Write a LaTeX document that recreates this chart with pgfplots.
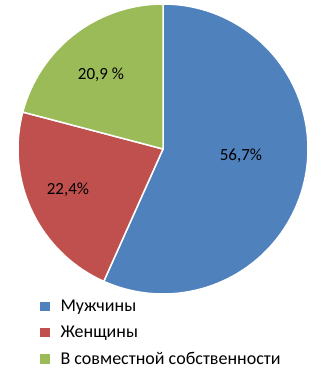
\documentclass[border=0pt]{standalone}
\usepackage{fontspec}
\setmainfont{Carlito}
\usepackage{pgfplots}
\pgfplotsset{compat=1.18}
\definecolor{cblue}{HTML}{4F81BD}
\definecolor{cred}{HTML}{C0504D}
\definecolor{cgreen}{HTML}{9BBB59}
\begin{document}
\begin{tikzpicture}
\begin{axis}[
  x=1bp, y=1bp, scale only axis,
  xmin=0, xmax=331, ymin=0, ymax=378, y dir=reverse,
  hide axis, clip=false,
  legend cell align=left,
  legend image code/.code={\fill[#1] (0bp,-5.5bp) rectangle (12bp,5.5bp); \path (21bp,0bp);},
  legend style={at={(axis cs:38,300)}, anchor=north west, draw=none, fill=none,
    font=\fontsize{18bp}{21bp}\selectfont, row sep=13bp,
    nodes={inner sep=0pt}, inner sep=0pt, outer sep=0pt},
]
\path (axis cs:0,0) rectangle (axis cs:331,378);
% values: 56.7, 22.4, 20.9 (percent), clockwise from 12 o'clock
\addplot[fill=cblue, draw=white, line width=1.5bp, samples=120, domain=90:{90-3.6*56.7}]
  ({163+145*cos(x)}, {149-145*sin(x)}) -- (axis cs:163,149) -- cycle;
\addlegendentry{Мужчины}
\addplot[fill=cred, draw=white, line width=1.5bp, samples=60, domain={90-3.6*56.7}:{90-3.6*(56.7+22.4)}]
  ({163+145*cos(x)}, {149-145*sin(x)}) -- (axis cs:163,149) -- cycle;
\addlegendentry{Женщины}
\addplot[fill=cgreen, draw=white, line width=1.5bp, samples=60, domain={90-3.6*(56.7+22.4)}:{90-3.6*100}]
  ({163+145*cos(x)}, {149-145*sin(x)}) -- (axis cs:163,149) -- cycle;
\addlegendentry{В совместной собственности}
\node[font=\fontsize{17bp}{19bp}\selectfont] at (axis cs:241,156) {56,7\%};
\node[font=\fontsize{17bp}{19bp}\selectfont] at (axis cs:68,190) {22,4\%};
\node[font=\fontsize{17bp}{19bp}\selectfont] at (axis cs:101,75) {20,9 \%};
\end{axis}
\end{tikzpicture}
\end{document}
